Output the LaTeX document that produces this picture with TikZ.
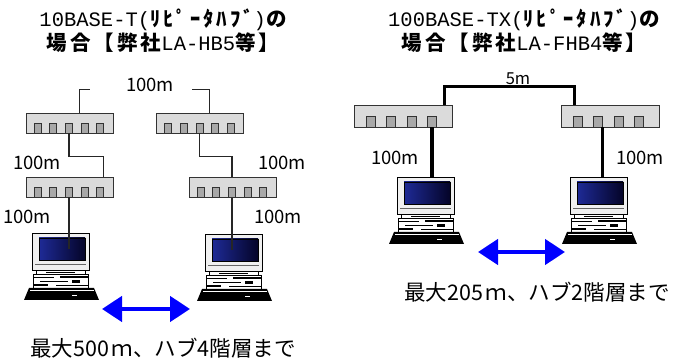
\documentclass[tikz,border=0pt]{standalone}
\usepackage{fontspec}
\setmainfont{Noto Sans CJK JP}
\newfontfamily\hdlatin{Liberation Mono}
\newfontfamily\hdjp[LetterSpace=15]{Noto Sans CJK JP}
\newcommand\hdl[1]{{\hdlatin #1}}
\newcommand\hdj[1]{{\hdjp\bfseries #1}}
\definecolor{scrhi}{RGB}{30,42,150}
\definecolor{scrlo}{RGB}{4,4,40}
\usetikzlibrary{arrows.meta, calc}

\begin{document}
\begin{tikzpicture}[x=1pt, y=-1pt, >={Triangle[length=20pt,width=25pt]},
    hub10/.style={draw=black!80, fill=black!14, line width=0.9pt, inner sep=0pt, minimum width=87pt, minimum height=20pt},
    hub100/.style={draw=black!80, fill=black!14, line width=0.9pt, inner sep=0pt, minimum width=98pt, minimum height=22pt},
    port10/.style={draw=black!80, fill=black!34, line width=0.8pt, inner sep=0pt, minimum width=7pt, minimum height=10pt, anchor=south},
    port100/.style={draw=black!80, fill=black!34, line width=0.8pt, inner sep=0pt, minimum width=9pt, minimum height=11pt, anchor=south},
    cable/.style={draw=black!85, line width=1.1pt},
    fatcable/.style={draw=black, line width=3.5pt},
    len/.style={font=\fontsize{18.5}{20}\selectfont},
    note/.style={font=\fontsize{21.5}{24}\selectfont},
    head/.style={align=center, font=\fontsize{20.5}{24.5}\selectfont},
    reach/.style={<->, draw=blue, line width=4.5pt},
    pics/pc/.style={code={
        % monitor and screen
        \node[draw, line width=0.8pt, fill=black!6, inner sep=0pt, minimum width=57pt, minimum height=37pt] (-mon) at (28.5,18.5) {};
        \node[draw, line width=0.6pt, inner sep=0pt, minimum width=46pt, minimum height=22pt, left color=scrhi, right color=scrlo] (-scr) at (30,16) {};
        \draw[black!60] (3,31) -- (54,31);
        % stand
        \draw[fill=white, line width=0.7pt] (4,37) rectangle (53,41);
        \draw (14,39) -- (43,39);
        % box
        \draw[fill=white, line width=0.7pt] (1,41) rectangle (56,55);
        \fill (1,44) rectangle (22,45.5);
        \fill (28,43.5) rectangle (56,45);
        \fill (8,48) rectangle (36,49.5);
        \fill (40,47) rectangle (48,50);
        \fill (1,51.5) rectangle (16,53);
        \fill (24,52) rectangle (56,53.5);
        % keyboard
        \fill (-3,55) -- (62,55) -- (67,67) -- (-8,67) -- cycle;
        \draw[white, line width=0.6pt] (-2,57.5) -- (62,57.5);
        \fill[white] (40,62) rectangle (45,63.2);
    }}
]
\useasboundingbox (0,0) rectangle (678,363);

% 10BASE-T
\node[head] (headL) at (163,30.5) {\hdl{10BASE-T(}\hdj{ﾘﾋﾟｰﾀﾊﾌﾞ}\hdl{)}\hdj{の}\\\hdj{場合【弊社}\hdl{LA-HB5}\hdj{等】}};

\node[hub10] (hubA) at (69.5,123) {};
\node[hub10] (hubB) at (69.5,187) {};
\node[hub10] (hubC) at (200,123) {};
\node[hub10] (hubD) at (232.5,187.5) {};
\foreach \h in {hubA,hubB,hubC,hubD}
    \foreach \i in {1,...,5}
        \node[port10] (\h-\i) at ($(\h.south west)+({12+15.7*(\i-1)},0)$) {};

\pic (pcA) at (32,233) {pc};
\pic (pcB) at (205,234) {pc};

\draw[cable] ($(hubA.north west)+(54,0)$) |- ++(10,-23);
\draw[cable] ($(hubC.north west)+(53,0)$) |- ++(-17,-23);
\draw[cable] (hubA-3.south) -- ++(0,23) -| ($(hubB.north east)+(-10,0)$);
\draw[cable] (hubC-3.south) -- ++(0,23) -| (hubD-3 |- hubD.north);
\draw[cable] (hubB-3.south) -- (hubB-3.south |- pcA-scr.center);
\draw[cable] (hubD-3.south) -- (hubD-3.south |- pcB-scr.center);

\node[len] (lenA) at (150,85) {100m};
\node[len] (lenB) at (37,163) {100m};
\node[len] (lenC) at (27,217) {100m};
\node[len] (lenD) at (282,163) {100m};
\node[len] (lenE) at (278,217) {100m};

\coordinate (reachA) at (102,309);
\coordinate (reachB) at (190,309);
\draw[reach] (reachA) -- (reachB);
\node[note] (sumL) at (163,348) {最大500\hspace{3pt}ｍ、ハブ4階層まで};

% 100BASE-TX
\node[head] (headR) at (524,30.5) {\hdl{100BASE-TX(}\hdj{ﾘﾋﾟｰﾀﾊﾌﾞ}\hdl{)}\hdj{の}\\\hdj{場合【弊社}\hdl{LA-FHB4}\hdj{等】}};

\node[hub100] (hubE) at (403,116) {};
\node[hub100] (hubF) at (610,116) {};
\foreach \h in {hubE,hubF}
    \foreach \i in {1,...,4}
        \node[port100] (\h-\i) at ($(\h.south west)+({17+20.5*(\i-1)},0)$) {};

\pic (pcC) at (397,177) {pc};
\pic (pcD) at (570,177) {pc};

\draw[fatcable] ($(hubE.north west)+(91,0)$) -- ++(0,-18) -| ($(hubF.north west)+(14,0)$);
\draw[fatcable] (hubE-4.south) -- (hubE-4.south |- pcC-mon.north);
\draw[fatcable] ($(hubF.south west)+(42,0)$) coordinate (dropF) -- (dropF |- pcD-mon.north);

\node[len, font=\fontsize{16.5}{18}\selectfont] (lenF) at (518,79) {5m};
\node[len] (lenG) at (395,158) {100m};
\node[len] (lenH) at (640,158) {100m};

\coordinate (reachC) at (478,252);
\coordinate (reachD) at (565,252);
\draw[reach] (reachC) -- (reachD);
\node[note] (sumR) at (537,292) {最大205\hspace{3pt}ｍ、ハブ2階層まで};
\end{tikzpicture}
\end{document}
